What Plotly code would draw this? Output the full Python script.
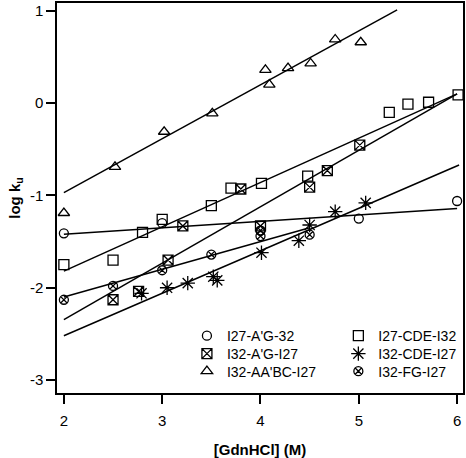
import plotly.graph_objects as go

# ---- data ----
c_x = [2.0, 3.0, 5.0, 6.0, 4.0]
c_y = [-1.41, -1.30, -1.25, -1.06, -1.38]

sq_x = [2.0, 2.5, 2.8, 3.0, 3.5, 3.7, 4.01, 4.48, 5.31, 5.5, 5.71, 6.01]
sq_y = [-1.75, -1.70, -1.40, -1.26, -1.11, -0.92, -0.87, -0.79, -0.10, -0.01, 0.01, 0.09]

sx_x = [2.5, 2.76, 3.06, 3.21, 3.8, 4.0, 4.5, 4.68, 5.01]
sx_y = [-2.13, -2.04, -1.70, -1.33, -0.93, -1.33, -0.91, -0.73, -0.455]

tr_x = [2.0, 2.52, 3.02, 3.51, 4.05, 4.09, 4.28, 4.51, 4.76, 5.02]
tr_y = [-1.19, -0.69, -0.31, -0.11, 0.36, 0.20, 0.38, 0.43, 0.69, 0.66]

as_x = [2.79, 3.05, 3.26, 3.52, 3.56, 4.01, 4.39, 4.5, 4.76, 5.07]
as_y = [-2.06, -2.0, -1.95, -1.88, -1.92, -1.62, -1.49, -1.32, -1.175, -1.08]

cx_x = [2.0, 2.5, 3.0, 3.5, 4.0, 4.0, 4.5]
cx_y = [-2.13, -1.98, -1.81, -1.64, -1.38, -1.44, -1.425]

# fitted lines (end points)
fit_c_x, fit_c_y = [2.0, 6.0], [-1.42, -1.14]
fit_sq_x, fit_sq_y = [2.0, 6.0], [-1.82, 0.10]
fit_sx_x, fit_sx_y = [2.0, 6.0], [-2.345, 0.10]
fit_as_x, fit_as_y = [2.0, 6.02], [-2.52, -0.67]
fit_cx_x, fit_cx_y = [2.0, 4.5], [-2.10, -1.35]
fit_tr_x, fit_tr_y = [2.0, 5.39], [-0.97, 1.01]

names = ["I27-A'G-32", "I32-A'G-I27", "I32-AA'BC-I27",
         "I27-CDE-I32", "I32-CDE-I27", "I32-FG-I27"]

x_tickvals = [2, 3, 4, 5, 6]
x_ticktext = ["2", "3", "4", "5", "6"]
y_tickvals = [-3, -2, -1, 0, 1]
y_ticktext = ["-3", "-2", "-1", "0", "1"]

FONT = "Arial, 'Liberation Sans', sans-serif"
fig = go.Figure()

for fx, fy in [(fit_c_x, fit_c_y), (fit_sq_x, fit_sq_y), (fit_sx_x, fit_sx_y),
               (fit_as_x, fit_as_y), (fit_cx_x, fit_cx_y), (fit_tr_x, fit_tr_y)]:
    fig.add_trace(go.Scatter(x=fx, y=fy, mode="lines",
                             line=dict(color="black", width=1.5),
                             showlegend=False, hoverinfo="skip"))

legend_ids = ["legend", "legend2", "legend3", "legend4", "legend5", "legend6"]
series = [
    (c_x, c_y, names[0], "circle-open", 9),
    (sx_x, sx_y, names[1], "square-x-open", 10),
    (tr_x, tr_y, names[2], "triangle-up-open", 10),
    (sq_x, sq_y, names[3], "square-open", 10),
    (as_x, as_y, names[4], "asterisk-open", 12),
    (cx_x, cx_y, names[5], "circle-x-open", 9),
]
for (x, y, n, sym, sz), lg in zip(series, legend_ids):
    fig.add_trace(go.Scatter(
        x=x, y=y, mode="markers", name=n, legend=lg,
        marker=dict(symbol=sym, size=sz, color="black",
                    line=dict(color="black", width=1.3))))

legfont = dict(family=FONT, size=14, color="black")
col_x = [0.32, 0.32, 0.32, 0.693, 0.693, 0.693]
row_y = [0.146, 0.100, 0.055, 0.146, 0.100, 0.055]
legends = {}
for lg, lx, ly in zip(legend_ids, col_x, row_y):
    legends[lg] = dict(x=lx, y=ly, xanchor="left", yanchor="middle",
                       bgcolor="rgba(0,0,0,0)", font=legfont)

fig.update_layout(
    width=466, height=458,
    margin=dict(l=57, r=2, t=1, b=63),
    paper_bgcolor="white", plot_bgcolor="white",
    font=dict(family=FONT, size=15, color="black"),
    xaxis=dict(range=[1.93, 6.06], tickvals=x_tickvals, ticktext=x_ticktext,
               ticks="outside", ticklen=9, tickwidth=1.5, tickcolor="black",
               showline=True, linecolor="black", linewidth=1.5, mirror=True,
               showgrid=False, zeroline=False, ticklabelstandoff=4,
               tickfont=dict(family=FONT, size=15),
               title=dict(text="<b>[GdnHCl] (M)</b>", standoff=18,
                          font=dict(family=FONT, size=15))),
    yaxis=dict(range=[-3.14, 1.085], tickvals=y_tickvals, ticktext=y_ticktext,
               ticks="outside", ticklen=9, tickwidth=1.5, tickcolor="black",
               showline=True, linecolor="black", linewidth=1.5, mirror=True,
               showgrid=False, zeroline=False,
               tickfont=dict(family=FONT, size=15),
               title=dict(text="<b>log k<sub>u</sub></b>", standoff=6,
                          font=dict(family=FONT, size=15))),
    **legends,
)

fig.write_html("out.html", config={"displayModeBar": False},
               post_script="document.body.style.margin='0';")
